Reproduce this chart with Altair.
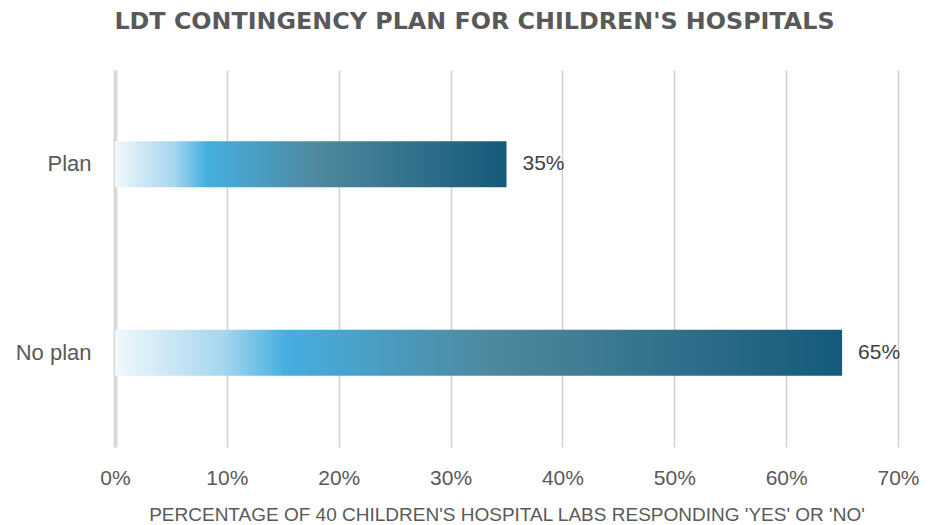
import altair as alt
import pandas as pd

categories = ["Plan", "No plan"]
values = [35, 65]

df = pd.DataFrame({"category": categories, "pct": values})

FONT = "Liberation Sans"
GRAY = "#595959"

gradient = alt.Gradient(
    gradient="linear",
    x1=0, x2=1, y1=0, y2=0,
    stops=[
        alt.GradientStop(color="#f1f8fc", offset=0.0),
        alt.GradientStop(color="#a6d6ee", offset=0.15),
        alt.GradientStop(color="#44afe0", offset=0.235),
        alt.GradientStop(color="#4f889e", offset=0.52),
        alt.GradientStop(color="#145a7a", offset=1.0),
    ],
)

y_enc = alt.Y(
    "category:N",
    sort=categories,
    title=None,
    axis=alt.Axis(
        labelFont=FONT, labelFontSize=22, labelColor=GRAY, labelPadding=24,
        ticks=False, domain=True, domainColor="#d9d9d9", domainWidth=4,
        grid=False,
    ),
)

x_enc = alt.X(
    "pct:Q",
    scale=alt.Scale(domain=[0, 70], nice=False),
    title="PERCENTAGE OF 40 CHILDREN'S HOSPITAL LABS RESPONDING 'YES' OR 'NO'",
    axis=alt.Axis(
        values=[0, 10, 20, 30, 40, 50, 60, 70],
        labelExpr="datum.value + '%'",
        labelFlush=False,
        labelFont=FONT, labelFontSize=21, labelColor=GRAY, labelPadding=20,
        ticks=False, domain=False,
        grid=True, gridColor="#d0d0d0", gridWidth=1.5,
        titleFont=FONT, titleFontSize=19, titleFontWeight="normal",
        titleColor=GRAY, titlePadding=17,
    ),
)

bars = alt.Chart(df).mark_bar(size=46, color=gradient).encode(y=y_enc, x=x_enc)

labels = alt.Chart(df).mark_text(
    align="left", baseline="middle", dx=16, font=FONT, fontSize=21, color="#404040"
).encode(
    y=alt.Y("category:N", sort=categories),
    x=alt.X("pct:Q"),
    text=alt.Text("label:N"),
).transform_calculate(label="datum.pct + '%'")

chart = (
    alt.layer(bars, labels)
    .properties(
        width=783,
        height=377,
        autosize=alt.AutoSizeParams(type="none"),
        padding={"left": 107, "top": 62, "right": 22, "bottom": 78},
        view=alt.ViewBackground(stroke="transparent", strokeWidth=0),
        title=alt.TitleParams(
            "LDT CONTINGENCY PLAN FOR CHILDREN'S HOSPITALS",
            font="DejaVu Sans", fontSize=23.8, fontWeight="bold", color=GRAY,
            anchor="middle", frame="group", dx=-32, offset=36,
        ),
    )
    .configure_view(stroke="transparent", strokeWidth=0)
    .configure_axisY(grid=False)
    .configure(background="white")
)

chart.save("out.html", embed_options={"renderer": "svg", "actions": False})
